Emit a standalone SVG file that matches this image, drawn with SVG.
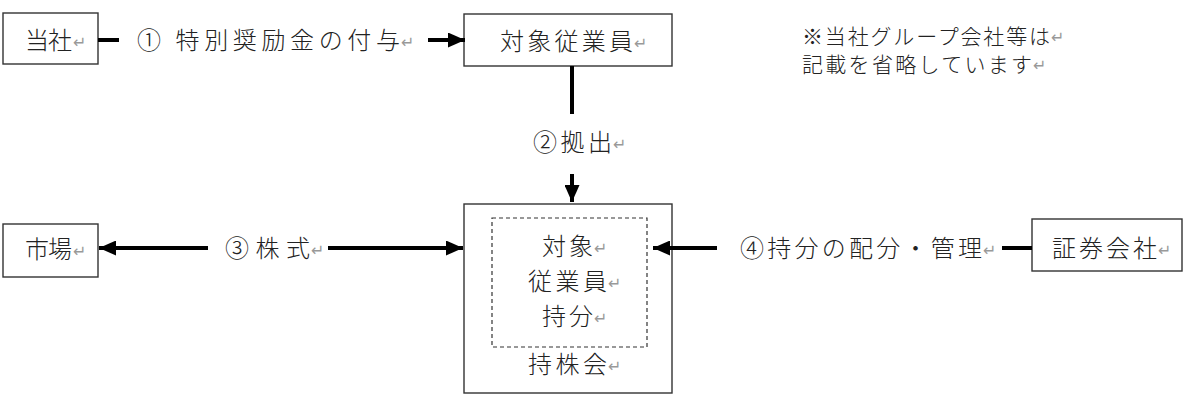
<svg xmlns="http://www.w3.org/2000/svg" width="1200" height="409" viewBox="0 0 1200 409">
<style>
  .box{fill:#fff;stroke:#333;stroke-width:1.4}
  .dash{fill:none;stroke:#333;stroke-width:1.2;stroke-dasharray:4 3}
  .t{font-family:"Noto Sans CJK JP","Noto Sans CJK SC",sans-serif;font-size:24px;font-weight:300;fill:#222}
  .s{font-family:"Noto Sans CJK JP","Noto Sans CJK SC",sans-serif;font-size:21px;font-weight:300;fill:#222}
  .rm{font-family:"DejaVu Sans",sans-serif;font-size:16px;fill:#999}
  .c{fill:none;stroke:#000;stroke-width:4}
</style>
<defs>
  <marker id="ah" markerUnits="userSpaceOnUse" markerWidth="18" markerHeight="15" refX="17" refY="7.5" orient="auto">
    <path d="M0,0 L17,7.5 L0,15 z" fill="#000"/>
  </marker>
</defs>
<g id="node-tousha">
  <rect class="box" x="3" y="13" width="95" height="51"/>
  <text class="t" x="25" y="49" textLength="47" lengthAdjust="spacing">当社</text><text class="rm" x="73" y="48">↵</text>
</g>
<g id="node-employee">
  <rect class="box" x="464" y="14" width="208" height="52"/>
  <text class="t" x="500" y="50" textLength="133" lengthAdjust="spacing">対象従業員</text><text class="rm" x="634" y="49">↵</text>
</g>
<g id="node-note">
  <text class="s" x="802" y="44" textLength="248" lengthAdjust="spacing">※当社グループ会社等は</text><text class="rm" x="1051" y="43">↵</text>
  <text class="s" x="802" y="72" textLength="230" lengthAdjust="spacing">記載を省略しています</text><text class="rm" x="1033" y="71">↵</text>
</g>
<g id="node-market">
  <rect class="box" x="3" y="224" width="95" height="53"/>
  <text class="t" x="25" y="258" textLength="47" lengthAdjust="spacing">市場</text><text class="rm" x="73" y="257">↵</text>
</g>
<g id="node-mochikabukai">
  <rect class="box" x="464" y="204" width="208" height="189"/>
  <rect class="dash" x="492" y="218" width="155" height="129"/>
  <text class="t" x="542" y="255" textLength="51" lengthAdjust="spacing">対象</text><text class="rm" x="594" y="254">↵</text>
  <text class="t" x="528" y="290" textLength="79" lengthAdjust="spacing">従業員</text><text class="rm" x="608" y="289">↵</text>
  <text class="t" x="542" y="325" textLength="51" lengthAdjust="spacing">持分</text><text class="rm" x="594" y="324">↵</text>
  <text class="t" x="528" y="373" textLength="79" lengthAdjust="spacing">持株会</text><text class="rm" x="608" y="372">↵</text>
</g>
<g id="node-securities">
  <rect class="box" x="1032" y="219" width="150" height="52"/>
  <text class="t" x="1052" y="257" textLength="105" lengthAdjust="spacing">証券会社</text><text class="rm" x="1158" y="256">↵</text>
</g>
<g id="connectors">
  <path class="c" d="M98,40 H119"/>
  <path class="c" d="M428,40 H465" marker-end="url(#ah)"/>
  <path class="c" d="M572,66 V114"/>
  <path class="c" d="M572,174 V202" marker-end="url(#ah)"/>
  <path class="c" d="M208,248 H99" marker-end="url(#ah)"/>
  <path class="c" d="M328,248 H463" marker-end="url(#ah)"/>
  <path class="c" d="M1032,248 H1002"/>
  <path class="c" d="M717,248 H653" marker-end="url(#ah)"/>
  <text class="t" x="137" y="49" textLength="263" lengthAdjust="spacing">① 特別奨励金の付与</text><text class="rm" x="401" y="48">↵</text>
  <text class="t" x="533" y="151" textLength="79" lengthAdjust="spacing">②拠出</text><text class="rm" x="613" y="150">↵</text>
  <text class="t" x="225" y="257" textLength="85" lengthAdjust="spacing">③株式</text><text class="rm" x="311" y="256">↵</text>
  <text class="t" x="740" y="257" textLength="242" lengthAdjust="spacing">④持分の配分・管理</text><text class="rm" x="983" y="256">↵</text>
</g>
</svg>
